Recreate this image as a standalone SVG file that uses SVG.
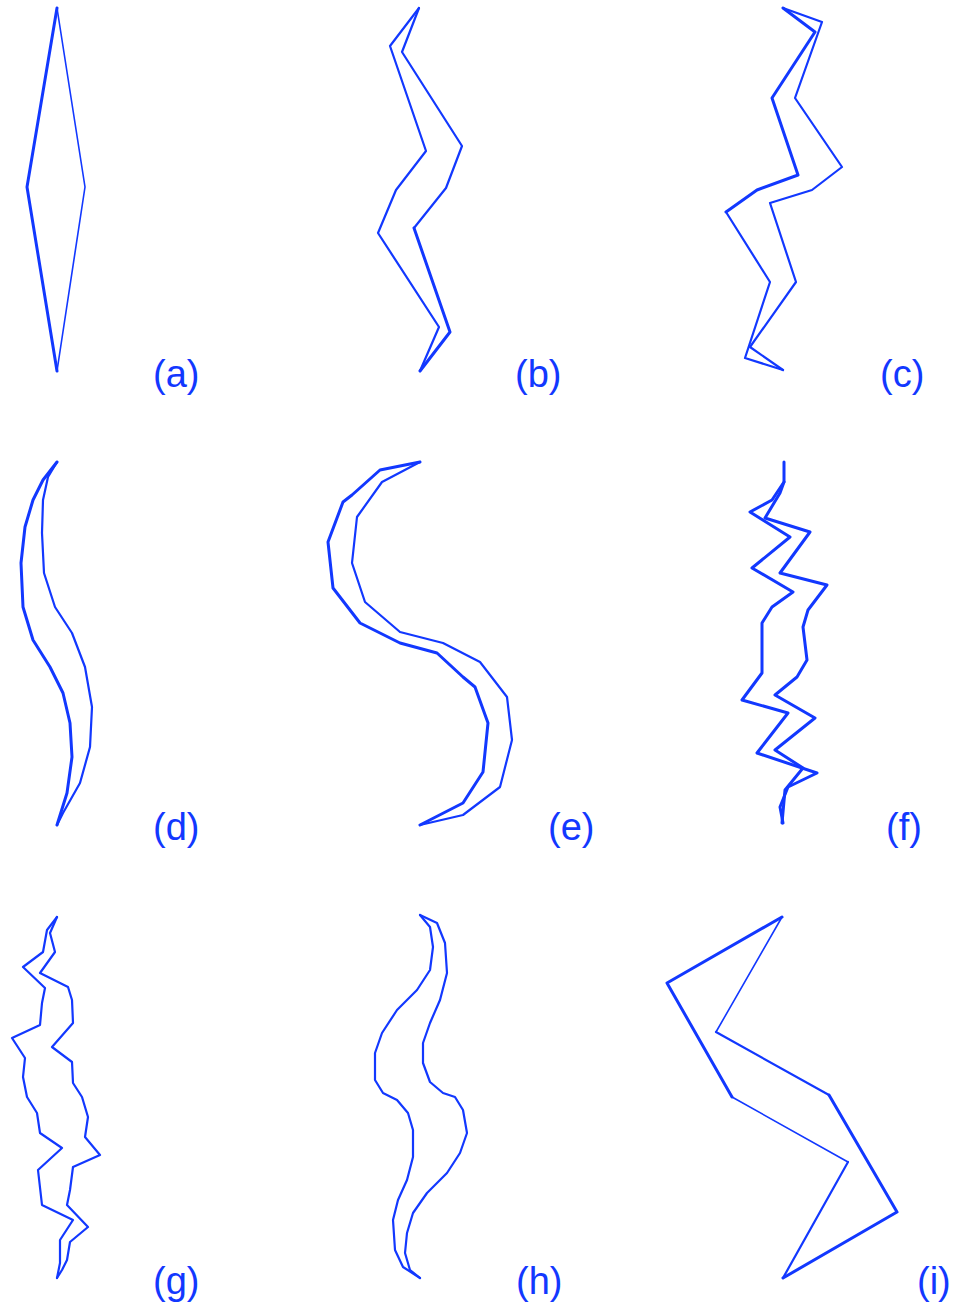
<svg xmlns="http://www.w3.org/2000/svg" width="953" height="1306" viewBox="0 0 953 1306">
<style>
.s{fill:none;stroke:#1238ff;stroke-width:2.2;stroke-linejoin:round;stroke-linecap:round}
.k{stroke-width:3}
.t{stroke-width:1.6}
.lb{font-family:"Liberation Sans",Arial,sans-serif;font-size:38px;fill:#1238ff}
</style>
<rect width="953" height="1306" fill="#fff"/>
<g id="panel-a">
<polyline class="s k" points="57,8 27,187 57,371"/>
<polyline class="s t" points="57,8 85,187 57,371"/>
<text class="lb" x="153" y="387">(a)</text>
</g>
<g id="panel-b">
<polyline class="s" points="419,8 390,46 426,151 396,190 378,233 439,327 420,371"/>
<polyline class="s" points="419,8 402,52 462,146 446,188 414,228"/>
<polyline class="s k" points="414,228 450,332 420,371"/>
<text class="lb" x="515" y="387">(b)</text>
</g>
<g id="panel-c">
<polyline class="s k" points="783,8 815,32 772,98 798,175 757,190 726,212"/>
<polyline class="s" points="726,212 770,282 745,358 783,370"/>
<polyline class="s" points="783,8 822,22 795,98 842,167 812,190 770,203 796,282 750,347 783,370"/>
<text class="lb" x="880" y="387">(c)</text>
</g>
<g id="panel-d">
<polyline class="s k" points="57,462 43,480 33,500 25,527 21,563 23,607 33,640 50,667 63,693 70,723 72,757 67,793 57,825"/>
<polyline class="s" points="57,462 48,477 43,500 42,533 44,573 55,607 72,633 85,667 92,707 90,747 80,783 63,813 57,825"/>
<text class="lb" x="153" y="840">(d)</text>
</g>
<g id="panel-e">
<polyline class="s k" points="420,462 380,470 352,495 343,502 328,542 333,588 360,623 400,643 437,653 463,677 475,687 488,723 483,772 463,803 420,825"/>
<polyline class="s" points="420,462 382,482 357,517 352,563 365,602 400,632 443,643 480,662 507,697 512,740 500,787 463,815 420,825"/>
<text class="lb" x="548" y="840">(e)</text>
</g>
<g id="panel-f">
<polyline class="s k" points="784,462 784,482 772,500 750,512 790,537 752,568 793,592 772,607 762,623 762,673 742,700 788,713 757,753 817,773 788,787 780,807 783,823"/>
<polyline class="s k" points="784,482 780,493 765,518 810,532 780,573 827,585 808,610 803,627 807,660 797,677 775,695 815,718 775,750 803,768 785,790 782,823"/>
<text class="lb" x="886" y="840">(f)</text>
</g>
<g id="panel-g">
<polyline class="s" points="57,917 47,930 43,952 23,967 45,988 42,1003 40,1025 12,1038 25,1058 23,1077 27,1097 37,1113 40,1133 62,1148 38,1170 42,1205 73,1220 60,1240 60,1263 57,1278"/>
<polyline class="s" points="57,917 50,933 55,952 40,973 68,987 72,1000 73,1023 52,1047 72,1062 73,1083 82,1097 88,1117 85,1137 100,1155 73,1167 70,1190 67,1205 88,1227 70,1242 67,1260 62,1270 57,1278"/>
<text class="lb" x="153" y="1294">(g)</text>
</g>
<g id="panel-h">
<polyline class="s" points="420,915 430,927 433,947 430,970 417,990 397,1010 382,1033 375,1053 375,1080 383,1093 397,1100 408,1113 413,1130 413,1157 407,1180 398,1200 393,1220 395,1250 403,1267 420,1278"/>
<polyline class="s" points="420,915 437,923 445,943 447,973 440,1000 430,1023 423,1043 423,1063 430,1082 443,1093 455,1097 463,1110 467,1133 460,1153 447,1173 427,1193 413,1213 407,1233 405,1253 410,1270 420,1278"/>
<text class="lb" x="516" y="1294">(h)</text>
</g>
<g id="panel-i">
<polyline class="s k" points="782,917 667,983 732,1097"/>
<polyline class="s t" points="732,1097 848,1162"/>
<polyline class="s" points="848,1162 783,1278"/>
<polyline class="s t" points="782,917 716,1032"/>
<polyline class="s" points="716,1032 829,1095"/>
<polyline class="s k" points="829,1095 897,1212 783,1278"/>
<text class="lb" x="917" y="1294">(i)</text>
</g>
</svg>
